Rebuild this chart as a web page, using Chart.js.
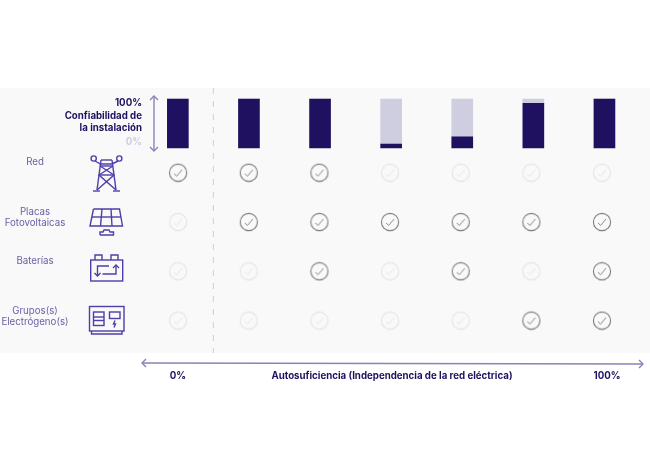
<!DOCTYPE html>
<html>
<head>
<meta charset="utf-8">
<script src="https://cdn.jsdelivr.net/npm/chart.js@4"></script>
<style>
    html, body { margin: 0; padding: 0; background: #fff; }
    canvas { display: block; }
</style>
</head>
<body>
<canvas id="chart" width="650" height="458"></canvas>
<script>
const scenarios = ['E1', 'E2', 'E3', 'E4', 'E5', 'E6', 'E7'];
const reliability = [100, 100, 100, 8, 23, 91, 100];
const unreliability = [0, 0, 0, 92, 77, 9, 0];

const redChecks = [1, 1, 1, 0, 0, 0, 0];
const placasChecks = [0, 1, 1, 1, 1, 1, 1];
const bateriasChecks = [0, 0, 1, 0, 1, 0, 1];
const gruposChecks = [0, 0, 0, 0, 0, 1, 1];

const NAVY = '#1f1160';
const LILAC = '#cfcde0';
const LABEL = '#6a5fa6';
const ICON = '#4f3ea8';
const ARROW = '#8a83b8';
const FONT = 'Inter, sans-serif';

function makeCheck(color) {
    const c = document.createElement('canvas');
    c.width = 20;
    c.height = 20;
    const g = c.getContext('2d');
    g.strokeStyle = color;
    g.lineWidth = 1.1;
    g.beginPath();
    g.arc(10, 10, 8.6, 0, Math.PI * 2);
    g.stroke();
    g.lineWidth = 0.9;
    g.beginPath();
    g.moveTo(6, 11);
    g.lineTo(8.6, 13.4);
    g.lineTo(14, 7);
    g.stroke();
    return c;
}
const markOn = makeCheck('#7d7d7d');
const markOff = makeCheck('#e4e4e4');

function checkRow(checks, row) {
    return {
        type: 'line',
        xAxisID: 'xChecks',
        yAxisID: 'yChecks',
        showLine: false,
        clip: false,
        data: checks.map((c, i) => ({ x: i, y: row })),
        pointRadius: 9,
        pointHoverRadius: 9,
        pointStyle: ctx => (checks[ctx.dataIndex] ? markOn : markOff)
    };
}

function line(g, pts) {
    g.beginPath();
    pts.forEach((p, i) => (i ? g.lineTo(p[0], p[1]) : g.moveTo(p[0], p[1])));
    g.stroke();
}

function arrowHead(g, x, y, dx, dy, s) {
    line(g, [[x - dx * s + dy * s, y - dy * s + dx * s], [x, y], [x - dx * s - dy * s, y - dy * s - dx * s]]);
}

function drawTower(g) {
    g.beginPath(); g.arc(93.7, 158.5, 2.6, 0, Math.PI * 2); g.stroke();
    g.beginPath(); g.arc(119.3, 158.5, 2.6, 0, Math.PI * 2); g.stroke();
    line(g, [[95, 161], [100.5, 164], [112, 164], [118, 161]]);
    line(g, [[101, 160], [112, 160]]);
    line(g, [[101, 160], [97, 190]]);
    line(g, [[112, 160], [116, 190]]);
    line(g, [[100, 166], [113, 166]]);
    line(g, [[99, 175], [114, 175]]);
    line(g, [[100, 166], [114, 175], [97, 190]]);
    line(g, [[113, 166], [99, 175], [116, 190]]);
    line(g, [[93, 191], [100, 191]]);
    line(g, [[113, 191], [120, 191]]);
}

function drawPanel(g) {
    line(g, [[93.5, 209], [119.5, 209], [122.5, 226], [90, 226], [93.5, 209]]);
    line(g, [[92, 217], [121, 217]]);
    line(g, [[102, 209], [100.5, 226]]);
    line(g, [[111, 209], [112, 226]]);
    line(g, [[100, 235], [113.5, 235], [113.5, 232], [110, 232], [109, 230], [104, 230], [103, 232], [100, 232], [100, 235]]);
}

function drawBattery(g) {
    g.strokeRect(90.7, 260, 32, 21);
    line(g, [[95, 260], [95, 255], [102, 255], [102, 260]]);
    line(g, [[111, 260], [111, 255], [118, 255], [118, 260]]);
    line(g, [[109, 266], [97.5, 266], [97.5, 276]]);
    arrowHead(g, 97.5, 276, 0, 1, 3);
    line(g, [[102.5, 274], [116, 274], [116, 265]]);
    arrowHead(g, 116, 265, 0, -1, 3);
}

function drawGenerator(g) {
    g.strokeRect(89.5, 306.5, 34.5, 24.5);
    line(g, [[91.5, 331], [91.5, 334], [122, 334], [122, 331]]);
    g.strokeRect(93.5, 312, 10.5, 13.5);
    line(g, [[93.5, 317], [104, 317]]);
    line(g, [[93.5, 320.5], [104, 320.5]]);
    g.strokeRect(109.5, 312, 10.5, 6.5);
    line(g, [[115, 320.5], [113.5, 324], [115.5, 324], [114, 327.5]]);
}

function text(g, str, x, y, color, weight, align) {
    g.fillStyle = color;
    g.font = weight + ' 9.7px ' + FONT;
    g.textAlign = align;
    g.textBaseline = 'middle';
    g.fillText(str, x, y);
}

const backdrop = {
    id: 'backdrop',
    beforeDraw(chart) {
        const g = chart.ctx;
        const area = chart.chartArea;
        const x = chart.scales.x;
        g.save();
        g.fillStyle = '#f9f9f9';
        g.fillRect(0, area.top, chart.width, area.bottom - area.top);
        // corte entre la primera columna y el resto
        const split = (x.getPixelForValue(0) + x.getPixelForValue(1)) / 2;
        g.strokeStyle = LILAC;
        g.lineWidth = 1;
        g.setLineDash([6, 7]);
        line(g, [[split, area.top], [split, area.bottom]]);
        g.restore();
    }
};

const annotations = {
    id: 'annotations',
    afterDraw(chart) {
        const g = chart.ctx;
        g.save();

        text(g, '100%', 142, 103, NAVY, 'bold', 'right');
        text(g, 'Confiabilidad de', 142, 116, NAVY, 'bold', 'right');
        text(g, 'la instalación', 142, 128, NAVY, 'bold', 'right');
        text(g, '0%', 142, 142, LILAC, 'bold', 'right');

        text(g, 'Red', 35, 162, LABEL, 'normal', 'center');
        text(g, 'Placas', 35, 212, LABEL, 'normal', 'center');
        text(g, 'Fotovoltaicas', 35, 223, LABEL, 'normal', 'center');
        text(g, 'Baterías', 35, 261, LABEL, 'normal', 'center');
        text(g, 'Grupos(s)', 35, 311, LABEL, 'normal', 'center');
        text(g, 'Electrógeno(s)', 35, 322, LABEL, 'normal', 'center');

        text(g, '0%', 178, 376, NAVY, 'bold', 'center');
        text(g, 'Autosuficiencia (Independencia de la red eléctrica)', 392, 376, NAVY, 'bold', 'center');
        text(g, '100%', 607, 376, NAVY, 'bold', 'center');

        g.strokeStyle = ARROW;
        g.lineWidth = 1.4;
        line(g, [[154, 96], [154, 151]]);
        arrowHead(g, 154, 96, 0, -1, 4);
        arrowHead(g, 154, 151, 0, 1, 4);
        line(g, [[142, 363], [643, 364]]);
        arrowHead(g, 142, 363, -1, 0, 4);
        arrowHead(g, 643, 364, 1, 0, 4);

        g.strokeStyle = ICON;
        g.lineWidth = 1.4;
        drawTower(g);
        drawPanel(g);
        drawBattery(g);
        drawGenerator(g);
        g.restore();
    }
};

new Chart(document.getElementById('chart'), {
    type: 'bar',
    data: {
        labels: scenarios,
        datasets: [
            { data: reliability, backgroundColor: NAVY, barThickness: 21, grouped: false, stack: 'total' },
            { data: unreliability, backgroundColor: LILAC, barThickness: 21, grouped: false, stack: 'total' },
            checkRow(redChecks, 0),
            checkRow(placasChecks, 1),
            checkRow(bateriasChecks, 2),
            checkRow(gruposChecks, 3)
        ]
    },
    options: {
        responsive: false,
        animation: false,
        layout: { padding: { left: 142.3, right: 7.5, top: 88, bottom: 105 } },
        plugins: { legend: { display: false }, tooltip: { enabled: false } },
        scales: {
            x: { display: false, stacked: true },
            y: { display: false, stacked: true, min: -418.4, max: 122.4 },
            // las marcas van algo más juntas que las barras
            xChecks: { axis: 'x', type: 'linear', display: false, offset: false, min: -0.507, max: 6.538 },
            yChecks: { axis: 'y', type: 'linear', display: false, reverse: true, min: -1.718, max: 3.657 }
        }
    },
    plugins: [backdrop, annotations]
});
</script>
</body>
</html>
